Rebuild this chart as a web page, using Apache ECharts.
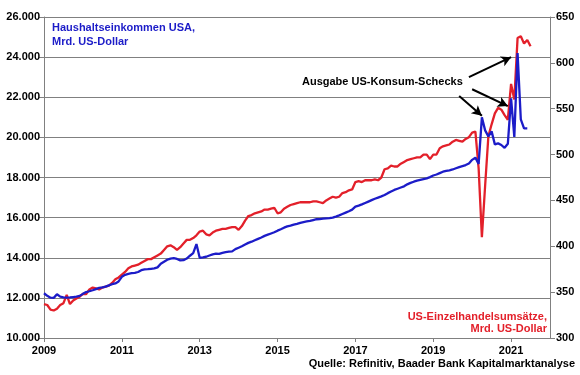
<!DOCTYPE html>
<html><head><meta charset="utf-8">
<script src="https://cdn.jsdelivr.net/npm/echarts@6/dist/echarts.min.js"></script>
<style>html,body{margin:0;padding:0;background:#fff}#c{width:580px;height:375px}</style>
</head><body><div id="c"></div>
<script>
// Monthly, Jan 2009 onwards
const incomeUSA = [
12230,12100,12010,12000,12180,12060,12030,12010,12020,12040,12060,12100,
12200,12290,12330,12380,12440,12500,12520,12560,12620,12680,12720,12820,
13050,13150,13200,13230,13250,13290,13380,13420,13430,13450,13470,13520,
13700,13800,13900,13960,13980,13940,13870,13880,13960,14100,14230,14680,
14000,14020,14050,14110,14170,14200,14190,14240,14280,14300,14320,14430,
14500,14570,14660,14740,14800,14870,14940,15010,15090,15150,15210,15270,
15350,15420,15500,15560,15600,15650,15690,15740,15780,15810,15840,15880,
15920,15930,15950,15960,15970,16000,16050,16110,16180,16250,16320,16400,
16550,16600,16660,16730,16800,16870,16940,17000,17060,17130,17220,17300,
17380,17440,17500,17560,17660,17730,17790,17840,17880,17920,17960,18020,
18100,18150,18220,18290,18330,18360,18400,18460,18520,18570,18620,18700,
18880,18990,18680,21000,20350,20050,20300,19650,19700,19620,19480,19680,
21950,20020,24200,20900,20450,20450
];
const retailSales = [
337,336,331,330,332,336,338,347,337,341,343,345,
348,348,353,355,354,353,355,356,357,360,364,366,
369,372,376,378,379,380,382,384,386,386,388,390,
392,396,400,401,399,396,399,403,407,407,409,412,
416,417,413,412,415,417,418,419,419,420,421,421,
418,422,428,433,434,436,437,438,440,440,441,442,
436,437,441,443,445,446,447,448,448,448,448,449,
449,448,447,450,452,454,453,454,458,459,461,462,
470,471,470,472,472,472,473,472,475,484,485,488,
487,487,490,492,494,495,496,497,497,500,500,495,
500,500,507,509,510,511,514,516,515,514,517,519,
524,525,485,410,466,520,533,545,551,549,543,538,
577,560,627,629,621,625,618
];
const leftTicks = {min:10000, max:26000, interval:2000};
const rightTicks = {min:300, max:650, interval:50};
const startYear = 2009, monthCount = 157;
const months = [];
for (let i = 0; i < monthCount; i++) {
  const y = startYear + Math.floor(i/12), m = i%12 + 1;
  months.push(y + '-' + (m < 10 ? '0' + m : m));
}
// annotation arrows: [fromIndex, fromValue, toIndex, toValue] on left axis
const arrows = [
  [131, 23000, 144, 24000],
  [132, 22400, 143, 21560],
  [128, 22060, 135, 21080]
];
const BLUE = '#1c1cc8', RED = '#e3202a', GRID = '#808080';
const FONT = 'Liberation Sans, Arial, sans-serif';
const fmt = v => String(v).replace(/\B(?=(\d{3})+(?!\d))/g, '.');

const chart = echarts.init(document.getElementById('c'), null, {renderer:'canvas'});
chart.setOption({
  animation: false,
  backgroundColor: '#fff',
  grid: {left: 44, right: 30, top: 17, bottom: 37, containLabel: false},
  xAxis: {
    type: 'category', data: months, boundaryGap: false,
    axisLine: {lineStyle: {color: GRID, width: 1}},
    axisTick: {show: true, interval: 23, length: 4, lineStyle: {color: GRID}},
    axisLabel: {interval: 23, formatter: v => v.slice(0,4), color: '#000',
      fontFamily: FONT, fontWeight: 'bold', fontSize: 11, margin: 7},
    splitLine: {show: false}
  },
  yAxis: [
    {type: 'value', min: leftTicks.min, max: leftTicks.max, interval: leftTicks.interval,
     axisLine: {show: true, lineStyle: {color: GRID}},
     axisTick: {show: true, length: 5, lineStyle: {color: GRID}},
     axisLabel: {formatter: fmt, color: '#000', fontFamily: FONT, fontWeight: 'bold', fontSize: 11, margin: 4},
     splitLine: {show: true, lineStyle: {color: GRID, width: 1}}},
    {type: 'value', position: 'right', min: rightTicks.min, max: rightTicks.max, interval: rightTicks.interval,
     axisLine: {show: true, lineStyle: {color: GRID}},
     axisTick: {show: true, length: 5, lineStyle: {color: GRID}},
     axisLabel: {color: '#000', fontFamily: FONT, fontWeight: 'bold', fontSize: 11, margin: 6},
     splitLine: {show: false}}
  ],
  series: [
    {type: 'line', name: 'Einzelhandel', yAxisIndex: 1, data: retailSales, showSymbol: false,
     lineStyle: {color: RED, width: 2.3}, itemStyle: {color: RED}},
    {type: 'line', name: 'Einkommen', yAxisIndex: 0, data: incomeUSA, showSymbol: false,
     lineStyle: {color: BLUE, width: 2.3}, itemStyle: {color: BLUE},
     markLine: {silent: true, symbol: ['none', 'arrow'], symbolSize: [8, 10], animation: false,
       label: {show: false}, lineStyle: {color: '#000', width: 2, type: 'solid'},
       data: arrows.map(a => [{coord: [a[0], a[1]]}, {coord: [a[2], a[3]]}])}}
  ],
  graphic: [
    {type: 'text', left: 52, top: 21, style: {text: 'Haushaltseinkommen USA,\nMrd. US-Dollar',
      fill: BLUE, font: 'bold 11px ' + FONT, lineHeight: 14}},
    {type: 'text', right: 33, top: 311, style: {text: 'US-Einzelhandelsumsätze,',
      fill: RED, font: 'bold 11px ' + FONT}},
    {type: 'text', right: 33, top: 323, style: {text: 'Mrd. US-Dollar',
      fill: RED, font: 'bold 11px ' + FONT}},
    {type: 'text', left: 302, top: 76, style: {text: 'Ausgabe US-Konsum-Schecks',
      fill: '#000', font: 'bold 11px ' + FONT}},
    {type: 'text', right: 5, top: 358, style: {text: 'Quelle: Refinitiv, Baader Bank Kapitalmarktanalyse',
      fill: '#000', font: 'bold 11px ' + FONT}}
  ]
});
</script></body></html>
